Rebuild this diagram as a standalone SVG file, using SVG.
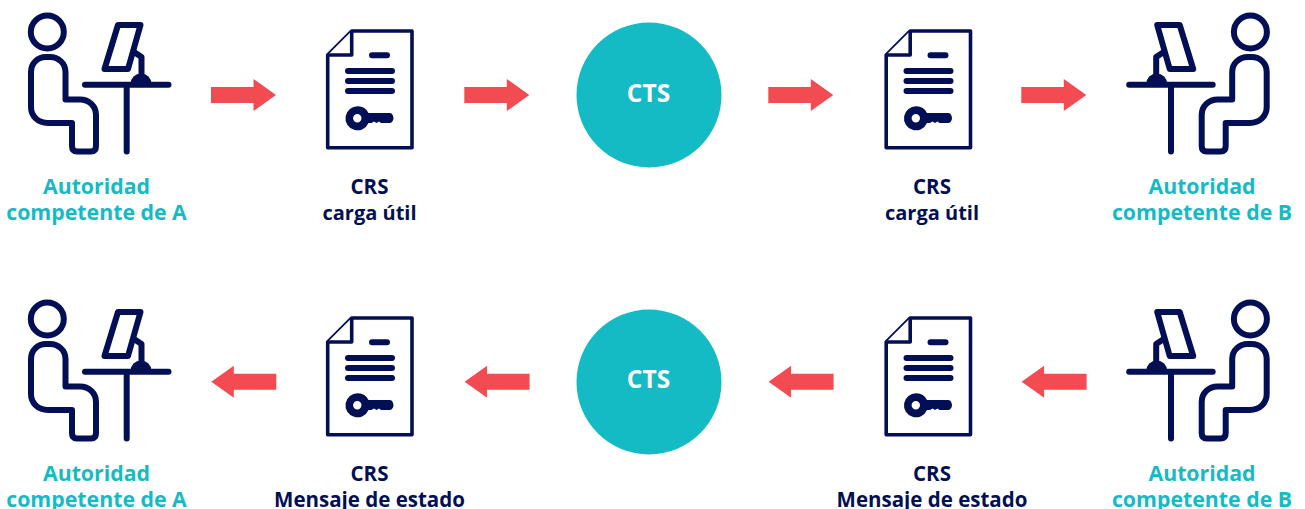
<svg xmlns="http://www.w3.org/2000/svg" xmlns:xlink="http://www.w3.org/1999/xlink" width="1305" height="509" viewBox="0 0 1305 509">
<style>
text{font-family:"Open Sans","Noto Sans","Liberation Sans",sans-serif;font-weight:700;font-size:20.500px;text-anchor:middle}
.t{fill:#14BBC4;font-size:21.300px}.n{fill:#020F54}.u{font-size:20px}
.s{fill:none;stroke:#020F54;stroke-width:6;stroke-linecap:round;stroke-linejoin:round}
.d{fill:#fff;stroke:#020F54;stroke-width:3.600;stroke-linejoin:round}
.f{fill:#020F54}.c{fill:#14BBC4}.ar{fill:#F24B52}
.w{fill:#fff;font-size:24.500px}
</style>
<defs>
<g id="person">
<circle class="s" cx="47.300" cy="32" r="16.500"/>
<path class="s" d="M31 72C31 63 38 57 46 57H50C58 57 65.500 63 65.500 72V99.500H80C89 99.500 96 106 96 115V146C96 150 94 151.500 91 151.500H77C74 151.500 72 150 72 146V123H48C38 123 31 116 31 107Z"/>
<path class="s" d="M85 84.800H168.500M126.700 84.800V151.500"/>
<path class="s" d="M118 25H140.500L128 69H104.500Z"/>
<path class="s" d="M134 52L141.500 57V78"/>
<path class="f" d="M130.500 84A10.500 10.500 0 0 1 151.500 84Z"/>
</g>
<g id="doc">
<path class="d" d="M351.700 31H412V147.700H327.700V55Z"/>
<path class="d" d="M351.700 31V55H327.700" fill="none"/>
<path class="s" d="M372 55.300H387M348 71H392M348 81H392M348 91H392"/>
<path class="f" fill-rule="evenodd" d="M358 106.300A12 12 0 0 1 368.500 113H390C392 113 393.500 116 393.500 118C393.500 120 392 123 390 123H381L379 121.500L376.500 123L374 121.500L371.500 123H368.500A12 12 0 1 1 358 106.300ZM357.300 114A4.200 4.200 0 1 0 357.300 122.400A4.200 4.200 0 1 0 357.300 114Z"/>
</g>
<path id="ar" class="ar" d="M0 -8H42.500V-16L65 0L42.500 16V8H0Z"/>
</defs>

<g id="connectors">
<use xlink:href="#ar" href="#ar" x="211" y="95"/>
<use xlink:href="#ar" href="#ar" x="464.300" y="95"/>
<use xlink:href="#ar" href="#ar" x="768.300" y="95"/>
<use xlink:href="#ar" href="#ar" x="1021.300" y="95"/>
<use xlink:href="#ar" href="#ar" transform="translate(276.300 381.700) scale(-1 1)"/>
<use xlink:href="#ar" href="#ar" transform="translate(529.600 381.700) scale(-1 1)"/>
<use xlink:href="#ar" href="#ar" transform="translate(833.600 381.700) scale(-1 1)"/>
<use xlink:href="#ar" href="#ar" transform="translate(1086.600 381.700) scale(-1 1)"/>
</g>

<g id="auth-a-top"><use xlink:href="#person" href="#person"/><text class="t" x="96.500" y="193.500">Autoridad</text><text class="t" x="96.500" y="219.500">competente de A</text></g>
<g id="doc-a-top"><use xlink:href="#doc" href="#doc"/><text class="n" x="369.500" y="193.500">CRS</text><text class="n u" x="369.500" y="219.500">carga útil</text></g>
<g id="cts-top"><circle class="c" cx="649" cy="95" r="72.500"/><text class="w" x="648.500" y="102">CTS</text></g>
<g id="doc-b-top"><use xlink:href="#doc" href="#doc" x="558.500"/><text class="n" x="932" y="193.500">CRS</text><text class="n u" x="932" y="219.500">carga útil</text></g>
<g id="auth-b-top"><use xlink:href="#person" href="#person" transform="translate(1297.700 0) scale(-1 1)"/><text class="t" x="1202" y="193.500">Autoridad</text><text class="t" x="1202" y="219.500">competente de B</text></g>

<g id="auth-a-bottom"><use xlink:href="#person" href="#person" y="287"/><text class="t" x="96.500" y="480.500">Autoridad</text><text class="t" x="96.500" y="506.500">competente de A</text></g>
<g id="doc-a-bottom"><use xlink:href="#doc" href="#doc" y="287"/><text class="n" x="369.500" y="480.500">CRS</text><text class="n" x="369.500" y="506.500">Mensaje de estado</text></g>
<g id="cts-bottom"><circle class="c" cx="649" cy="382" r="72.500"/><text class="w" x="648.500" y="388">CTS</text></g>
<g id="doc-b-bottom"><use xlink:href="#doc" href="#doc" x="558.500" y="287"/><text class="n" x="932" y="480.500">CRS</text><text class="n" x="932" y="506.500">Mensaje de estado</text></g>
<g id="auth-b-bottom"><use xlink:href="#person" href="#person" transform="translate(1297.700 287) scale(-1 1)"/><text class="t" x="1202" y="480.500">Autoridad</text><text class="t" x="1202" y="506.500">competente de B</text></g>
</svg>
